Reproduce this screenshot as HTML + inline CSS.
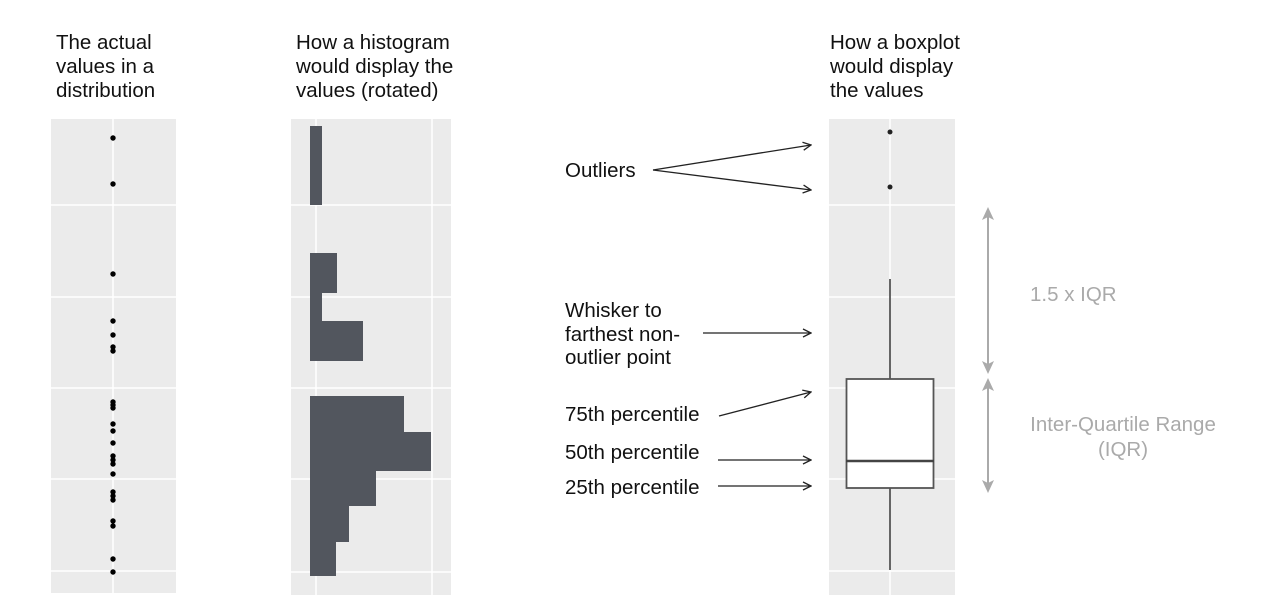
<!DOCTYPE html>
<html><head><meta charset="utf-8"><style>
html,body{margin:0;padding:0;background:#fff;}
svg{display:block;}
text{font-family:"Liberation Sans",sans-serif;font-size:20.5px;fill:#111;}
.g{fill:#aaa;}
</style></head><body>
<svg width="1267" height="615" viewBox="0 0 1267 615">
<defs>
<marker id="a" markerWidth="10" markerHeight="10" refX="9" refY="5" orient="auto" markerUnits="userSpaceOnUse"><path d="M1,1 L9,5 L1,9" fill="none" stroke="#222" stroke-width="1.3"/></marker>
</defs>
<!-- titles -->
<text x="56" y="49">The actual</text><text x="56" y="73">values in a</text><text x="56" y="97">distribution</text>
<text x="296" y="49">How a histogram</text><text x="296" y="73">would display the</text><text x="296" y="97">values (rotated)</text>
<text x="830" y="49">How a boxplot</text><text x="830" y="73">would display</text><text x="830" y="97">the values</text>
<!-- panel 1 -->
<rect x="51" y="119" width="125" height="474" fill="#ebebeb"/>
<g stroke="#fff" stroke-width="1.5"><line x1="51" x2="176" y1="205" y2="205"/><line x1="51" x2="176" y1="297" y2="297"/><line x1="51" x2="176" y1="388" y2="388"/><line x1="51" x2="176" y1="479" y2="479"/><line x1="51" x2="176" y1="571" y2="571"/><line x1="113" x2="113" y1="119" y2="593"/></g>
<g fill="#000">
<circle cx="113" cy="138" r="2.7"/><circle cx="113" cy="184" r="2.7"/><circle cx="113" cy="274" r="2.7"/><circle cx="113" cy="321" r="2.7"/><circle cx="113" cy="335" r="2.7"/><circle cx="113" cy="347" r="2.7"/><circle cx="113" cy="351" r="2.7"/><circle cx="113" cy="402" r="2.7"/><circle cx="113" cy="405" r="2.7"/><circle cx="113" cy="408" r="2.7"/><circle cx="113" cy="424" r="2.7"/><circle cx="113" cy="431" r="2.7"/><circle cx="113" cy="443" r="2.7"/><circle cx="113" cy="456" r="2.7"/><circle cx="113" cy="460" r="2.7"/><circle cx="113" cy="464" r="2.7"/><circle cx="113" cy="474" r="2.7"/><circle cx="113" cy="492" r="2.7"/><circle cx="113" cy="496" r="2.7"/><circle cx="113" cy="500" r="2.7"/><circle cx="113" cy="521" r="2.7"/><circle cx="113" cy="526" r="2.7"/><circle cx="113" cy="559" r="2.7"/><circle cx="113" cy="572" r="2.7"/>
</g>
<!-- panel 2 -->
<rect x="291" y="119" width="160" height="476" fill="#ebebeb"/>
<g stroke="#fff" stroke-width="1.5"><line x1="291" x2="451" y1="205" y2="205"/><line x1="291" x2="451" y1="297" y2="297"/><line x1="291" x2="451" y1="388" y2="388"/><line x1="291" x2="451" y1="479" y2="479"/><line x1="291" x2="451" y1="572" y2="572"/><line x1="316" x2="316" y1="119" y2="595"/><line x1="432" x2="432" y1="119" y2="595"/></g>
<g fill="#52565e">
<rect x="310" y="126" width="12" height="79"/>
<rect x="310" y="253" width="27" height="40"/><rect x="310" y="293" width="12" height="28"/><rect x="310" y="321" width="53" height="40"/>
<rect x="310" y="396" width="94" height="36"/><rect x="310" y="432" width="121" height="39"/><rect x="310" y="471" width="66" height="35"/><rect x="310" y="506" width="39" height="36"/><rect x="310" y="542" width="26" height="34"/>
</g>
<!-- panel 3 -->
<rect x="829" y="119" width="126" height="476" fill="#ebebeb"/>
<g stroke="#fff" stroke-width="1.5"><line x1="829" x2="955" y1="205" y2="205"/><line x1="829" x2="955" y1="297" y2="297"/><line x1="829" x2="955" y1="388" y2="388"/><line x1="829" x2="955" y1="479" y2="479"/><line x1="829" x2="955" y1="571" y2="571"/><line x1="890" x2="890" y1="119" y2="595"/></g>
<circle cx="890" cy="132" r="2.5" fill="#222"/><circle cx="890" cy="187" r="2.5" fill="#222"/>
<g stroke="#555" stroke-width="1.8"><line x1="890" x2="890" y1="279" y2="379"/><line x1="890" x2="890" y1="488" y2="570"/></g>
<rect x="846.5" y="379" width="87" height="109" fill="#fff" stroke="#555" stroke-width="1.8"/>
<line x1="846" x2="934" y1="461" y2="461" stroke="#444" stroke-width="2.5"/>
<!-- gray arrows -->
<g stroke="#aaa" stroke-width="2"><line x1="988" x2="988" y1="212" y2="370"/><line x1="988" x2="988" y1="383" y2="489"/></g>
<g fill="#aaa">
<polygon points="988,207 982,220 988,217 994,220"/>
<polygon points="988,374 982,361 988,364 994,361"/>
<polygon points="988,378 982,391 988,388 994,391"/>
<polygon points="988,493 982,480 988,483 994,480"/>
</g>
<text class="g" x="1030" y="301">1.5 x IQR</text>
<text class="g" x="1123" y="431" text-anchor="middle">Inter-Quartile Range</text>
<text class="g" x="1123" y="456" text-anchor="middle">(IQR)</text>
<!-- annotations -->
<text x="565" y="177">Outliers</text>
<text x="565" y="317">Whisker to</text><text x="565" y="341">farthest non-</text><text x="565" y="364">outlier point</text>
<text x="565" y="421">75th percentile</text>
<text x="565" y="459">50th percentile</text>
<text x="565" y="494">25th percentile</text>
<g stroke="#222" stroke-width="1.3" fill="none">
<line x1="653" y1="170" x2="811" y2="145" marker-end="url(#a)"/>
<line x1="653" y1="170" x2="811" y2="190" marker-end="url(#a)"/>
<line x1="703" y1="333" x2="811" y2="333" marker-end="url(#a)"/>
<line x1="719" y1="416" x2="811" y2="392" marker-end="url(#a)"/>
<line x1="718" y1="460" x2="811" y2="460" marker-end="url(#a)"/>
<line x1="718" y1="486" x2="811" y2="486" marker-end="url(#a)"/>
</g>
</svg>
</body></html>
